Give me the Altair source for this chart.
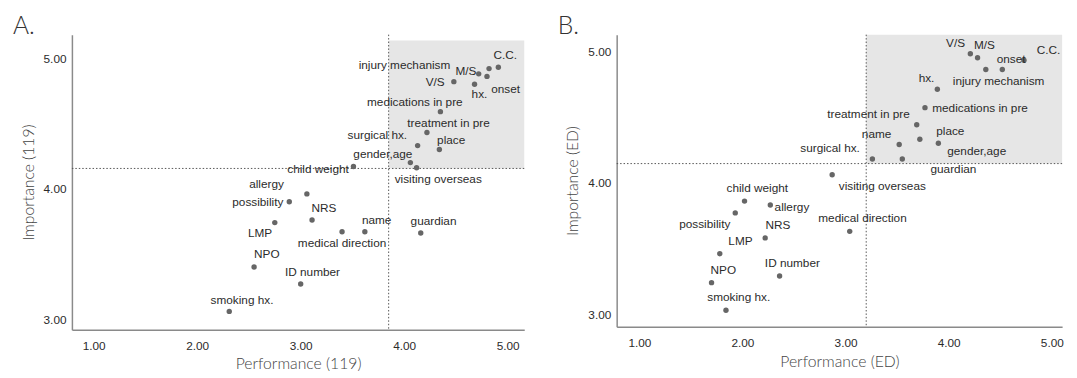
import altair as alt
import pandas as pd

items = ["C.C.", "injury mechanism", "M/S", "onset", "V/S", "hx.",
         "medications in pre", "treatment in pre", "surgical hx.", "place",
         "gender,age", "visiting overseas", "child weight", "allergy",
         "possibility", "NRS", "LMP", "medical direction", "name", "guardian",
         "NPO", "ID number", "smoking hx."]

perf_119 = [4.91, 4.82, 4.72, 4.80, 4.48, 4.68, 4.35, 4.22, 4.13, 4.34,
            4.06, 4.12, 3.51, 3.06, 2.89, 3.11, 2.75, 3.40, 3.62, 4.16,
            2.55, 3.00, 2.31]
imp_119 = [4.93, 4.92, 4.88, 4.86, 4.82, 4.80, 4.59, 4.43, 4.33, 4.30,
           4.20, 4.16, 4.17, 3.96, 3.90, 3.76, 3.74, 3.67, 3.67, 3.66,
           3.40, 3.27, 3.06]

perf_ed = [4.73, 4.36, 4.28, 4.52, 4.21, 3.89, 3.77, 3.69, 3.26, 3.72,
           3.90, 2.87, 2.02, 2.27, 1.93, 2.22, 1.78, 3.04, 3.52, 3.55,
           1.70, 2.36, 1.84]
imp_ed = [4.93, 4.86, 4.95, 4.86, 4.98, 4.71, 4.57, 4.44, 4.18, 4.33,
          4.30, 4.06, 3.86, 3.83, 3.77, 3.58, 3.46, 3.63, 4.29, 4.18,
          3.24, 3.29, 3.03]

mean_119 = {"perf": 3.85, "imp": 4.155}
mean_ed = {"perf": 3.20, "imp": 4.145}

# label placement offsets (pixels) relative to each point
offsets_119 = {
    "C.C.": (7, -12), "injury mechanism": (-86, -4), "M/S": (-13, -3),
    "onset": (19, 13), "V/S": (-19, 0), "hx.": (5, 10),
    "medications in pre": (-26, -10), "treatment in pre": (22, -10),
    "surgical hx.": (-41, -11), "place": (12, -10), "gender,age": (-28, -9),
    "visiting overseas": (22, 11), "child weight": (-36, 3),
    "allergy": (-41, -10), "possibility": (-32, 0), "NRS": (12, -12),
    "LMP": (-15, 11), "medical direction": (0, 12), "name": (12, -12),
    "guardian": (13, -12), "NPO": (13, -13), "ID number": (12, -12),
    "smoking hx.": (13, -12),
}
offsets_ed = {
    "C.C.": (25, -10), "injury mechanism": (13, 12), "M/S": (7, -13),
    "onset": (9, -11), "V/S": (-15, -11), "hx.": (-11, -11),
    "medications in pre": (56, 0), "treatment in pre": (-49, -11),
    "surgical hx.": (-43, -11), "place": (31, -8), "gender,age": (39, 8),
    "visiting overseas": (51, 12), "child weight": (13, -13),
    "allergy": (22, 2), "possibility": (-31, 11), "NRS": (13, -13),
    "LMP": (21, -13), "medical direction": (13, -13), "name": (-23, -11),
    "guardian": (52, 10), "NPO": (12, -13), "ID number": (13, -13),
    "smoking hx.": (13, -13),
}

FONT = "Liberation Sans"
TITLE_FONT = "Lato"


def panel(letter, suffix, perf, imp, means, offsets, xdom, ydom, box_top,
          width, height):
    xpu = width / (xdom[1] - xdom[0])
    ypu = height / (ydom[1] - ydom[0])
    df = pd.DataFrame({"item": items, "perf": perf, "imp": imp})
    df["lx"] = [p + offsets[n][0] / xpu for n, p in zip(items, perf)]
    df["ly"] = [v - offsets[n][1] / ypu for n, v in zip(items, imp)]

    xs = alt.Scale(domain=xdom, nice=False, zero=False)
    ys = alt.Scale(domain=ydom, nice=False, zero=False)
    xax = alt.Axis(values=[1, 2, 3, 4, 5], format=".2f", grid=False,
                   ticks=False, labelPadding=11, titlePadding=5)
    yax = alt.Axis(values=[3, 4, 5], format=".2f", grid=False,
                   ticks=False, labelPadding=6, titlePadding=7)

    box_df = pd.DataFrame({"x": [means["perf"]], "x2": [xdom[1]],
                           "y": [means["imp"]], "y2": [box_top]})
    box = alt.Chart(box_df).mark_rect(color="#e6e6e6").encode(
        x=alt.X("x:Q", scale=xs, axis=xax, title=f"Performance ({suffix})"),
        x2="x2:Q",
        y=alt.Y("y:Q", scale=ys, axis=yax, title=f"Importance ({suffix})"),
        y2="y2:Q",
    )
    mdf = pd.DataFrame({"perf": [means["perf"]], "imp": [means["imp"]]})
    vline = alt.Chart(mdf).mark_rule(color="#555", strokeDash=[1.5, 2],
                                     strokeWidth=1).encode(x="perf:Q")
    hline = alt.Chart(mdf).mark_rule(color="#555", strokeDash=[1.5, 2],
                                     strokeWidth=1).encode(y="imp:Q")
    pts = alt.Chart(df).mark_circle(size=30, color="#666666",
                                    opacity=1).encode(x="perf:Q", y="imp:Q")
    labels = alt.Chart(df).mark_text(font=FONT, fontSize=12, color="#2b2b2b",
                                     align="center",
                                     baseline="middle").encode(
        x="lx:Q", y="ly:Q", text="item:N")
    return alt.layer(box, vline, hline, pts, labels).properties(
        width=width, height=height,
        title=alt.TitleParams(letter, anchor="start", frame="group",
                              dx=-60, offset=-5, fontSize=25,
                              font=TITLE_FONT, fontWeight=300,
                              color="#333"),
    )


a = panel("A.", "119", perf_119, imp_119, mean_119, offsets_119,
          (0.79, 5.16), (2.92, 5.18), 5.136, 460, 300)
b = panel("B.", "ED", perf_ed, imp_ed, mean_ed, offsets_ed,
          (0.78, 5.10), (2.905, 5.125), 5.125, 453, 297)

chart = alt.hconcat(a, b, spacing=33).properties(
    padding={"left": 5, "top": 3, "right": 5, "bottom": 0}
).configure_view(stroke=None).configure_axis(
    domainColor="#8a8a8a", domainWidth=1.5, labelFont=FONT,
    labelFontSize=12, labelColor="#2b2b2b", titleFont=TITLE_FONT,
    titleFontWeight=300, titleFontSize=16, titleColor="#444",
)

chart.save("out.html", embed_options={"renderer": "svg", "actions": False})
